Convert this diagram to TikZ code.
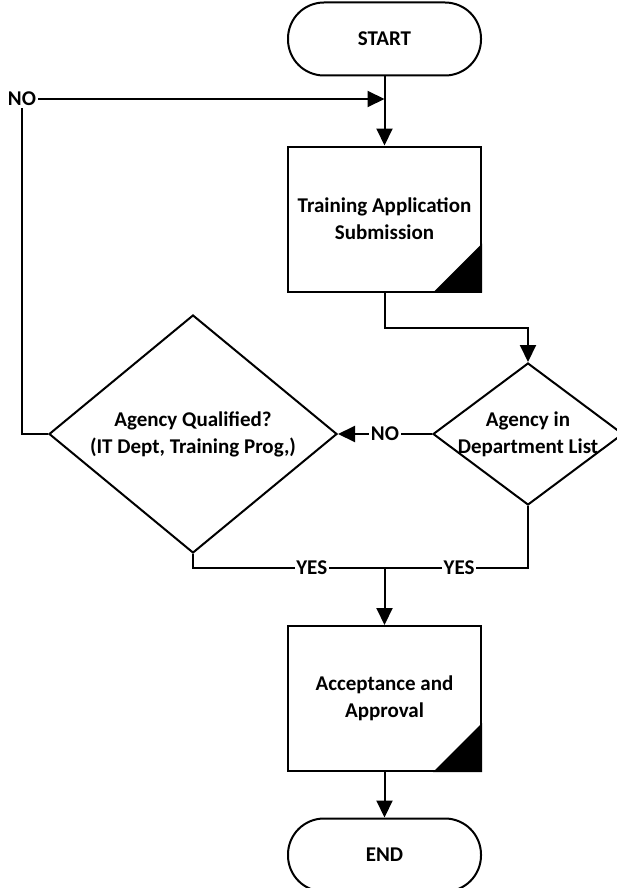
\documentclass[tikz,border=0pt]{standalone}
\usepackage{fontspec}
\setmainfont{Carlito}
\usetikzlibrary{positioning}
\usetikzlibrary{shapes.geometric,arrows.meta}

\tikzset{
	term/.style={draw, line width=2pt, rounded corners=36pt, minimum width=193pt, minimum height=73pt},
	proc/.style={draw, line width=2pt, minimum width=193pt, minimum height=145pt, align=center},
	dec/.style={draw, diamond, line width=2pt, inner sep=0pt},
	lab/.style={fill=white, inner sep=1.5pt},
	line/.style={line width=2pt},
	flow/.style={line width=2pt, -{Triangle[length=17pt,width=16pt]}}
}

\begin{document}
\begin{tikzpicture}[x=1pt, y=1pt, font=\fontsize{21}{27}\selectfont\bfseries]
		\useasboundingbox (0,0) rectangle (616,-888);
		%\draw[gray,step=50] (0,-888) grid (616,0);
		\node[term] (start) at (384.5,-39) {START};
		\node[proc] (train) at (384.5,-219) {Training Application\\Submission};
		\node[dec, minimum width=190pt, minimum height=142pt,
			label={[align=center]center:Agency in\\Department List}] (dept) at (528,-434) {};
		\node[dec, minimum width=288pt, minimum height=238pt,
			label={[align=center]center:Agency Qualified?\\(IT Dept, Training Prog,)}] (qual) at (193,-434) {};
		\node[proc] (accept) at (384.5,-698.5) {Acceptance and\\Approval};
		\node[term] (stop) at (384.5,-855) {END};
		\node[inner sep=2pt] (no1) at (22,-99) {NO};
		\coordinate (merge) at (384.5,-568);
		\fill (train.south east) -- ++(-49,0) -- ++(49,49) -- cycle;
		\fill (accept.south east) -- ++(-49,0) -- ++(49,49) -- cycle;
		\draw[flow] (start) -- (train);
		\draw[flow] (no1) -- (start.south |- no1);
		\draw[line] (qual.west) -| (no1.south);
		\draw[flow] (train.south) -- ++(0,-35) -| (dept.north);
		\draw[flow] (dept.west) -- node[lab] {NO} (qual.east);
		\draw[line] (qual.south) |- node[lab, pos=0.81] {YES} (merge);
		\draw[line] (dept.south) |- node[lab, pos=0.74] {YES} (merge);
		\draw[flow] (merge) -- (accept);
		\draw[flow] (accept) -- (stop);
	\end{tikzpicture}
\end{document}
